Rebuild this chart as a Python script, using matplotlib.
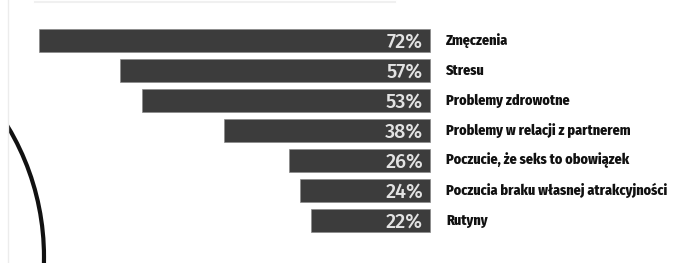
import matplotlib
matplotlib.use("Agg")
import matplotlib.pyplot as plt
import matplotlib.font_manager as fm
from matplotlib.patches import Circle, Rectangle

categories = ["Zmęczenia", "Stresu", "Problemy zdrowotne",
              "Problemy w relacji z partnerem", "Poczucie, że seks to obowiązek",
              "Poczucia braku własnej atrakcyjności", "Rutyny"]
values = [72, 57, 53, 38, 26, 24, 22]
value_labels = ["72%", "57%", "53%", "38%", "26%", "24%", "22%"]


def _w(f):
    try:
        return int(f.weight)
    except (TypeError, ValueError):
        return 700 if str(f.weight) == "bold" else 400


def pick(cands, minw, smallest=False):
    fonts = fm.fontManager.ttflist
    for c in cands:
        ws = sorted(_w(f) for f in fonts if f.name == c and _w(f) >= minw)
        if ws:
            return c, (ws[0] if smallest else ws[-1] if ws[-1] <= 900 else ws[0])
    return "DejaVu Sans", 700


label_font, label_w = pick(["Fira Sans Condensed", "Fira Sans Extra Condensed",
                            "Encode Sans Condensed", "Barlow Semi Condensed",
                            "PT Sans Narrow", "Roboto Condensed", "Archivo Narrow"], 800,
                           smallest=True)
if label_font == "DejaVu Sans":
    label_font, label_w = pick(["Fira Sans Condensed", "PT Sans Narrow",
                                "Roboto Condensed", "Archivo Narrow"], 700, smallest=True)
num_font, num_w = pick(["Fira Sans", "Ubuntu", "Open Sans"], 500, smallest=True)

W, H = 683, 263
fig = plt.figure(figsize=(W / 100, H / 100), dpi=100)
fig.patch.set_facecolor("white")

# decoration layer in pixel coordinates
deco = fig.add_axes([0, 0, 1, 1])
deco.set_xlim(0, W)
deco.set_ylim(H, 0)
deco.axis("off")
arc = Circle((-209, 257), 253, fill=False, edgecolor="#111111", lw=3.0)
deco.add_patch(arc)
arc.set_clip_path(Rectangle((9, 0), W, H, transform=deco.transData))
deco.plot([8, 8], [0, H], color="#ececec", lw=1)
deco.plot([35, 395], [2, 2], color="#f0f0f0", lw=1.5)

ax = fig.add_axes([0, 0, 1, 1])
ax.patch.set_alpha(0)
right_px = 430
scale = 5.43
ax.set_xlim(right_px / scale, -(W - right_px) / scale)
ax.set_ylim((H - 40.5) / 30, -40.5 / 30)
ax.axis("off")

pos = list(range(len(categories)))
ax.barh(pos, values, left=0, height=0.76, color="#3c3c3c",
        edgecolor="#8a8a8a", linewidth=0.5)

num_texts, cat_texts = [], []
for p, lab, cat in zip(pos, value_labels, categories):
    num_texts.append(ax.text(7 / scale, p + 0.03, lab, ha="right", va="center",
                             color="#e2e2e2", fontsize=11.5, fontweight=num_w,
                             family=[num_font, "DejaVu Sans"]))
    cat_texts.append(ax.text(-16 / scale, p, cat, ha="left", va="center",
                             color="#111111", fontsize=10, fontweight=label_w,
                             family=[label_font, "DejaVu Sans"]))

# fit text sizes to the reference widths
fig.canvas.draw()
r = fig.canvas.get_renderer()
wl = cat_texts[5].get_window_extent(r).width
for t in cat_texts:
    t.set_fontsize(10 * 222 / wl)
wn = num_texts[0].get_window_extent(r).width
for t in num_texts:
    t.set_fontsize(11.5 * 36 / wn)

fig.savefig("out.png", dpi=100)
